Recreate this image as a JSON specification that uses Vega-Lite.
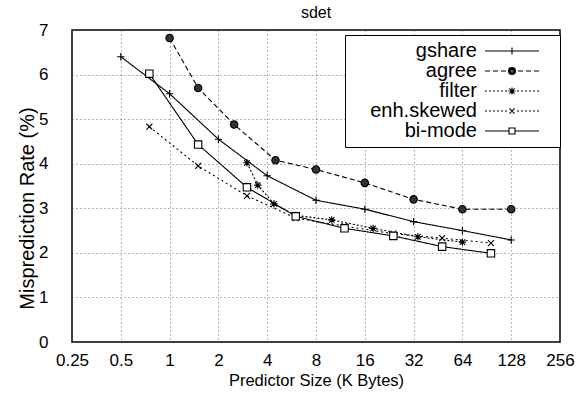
{
  "$schema": "https://vega.github.io/schema/vega-lite/v6.json",
  "width": 488,
  "height": 312,
  "autosize": {"type": "none"},
  "padding": {"left": 72, "top": 30, "right": 19, "bottom": 58},
  "background": "white",
  "title": {"text": "sdet", "fontSize": 16, "font": "Liberation Sans", "fontWeight": "normal", "color": "black", "offset": 0},
  "config": {
    "view": {"stroke": "black", "strokeWidth": 1.5},
    "axis": {
      "labelFont": "Liberation Sans", "labelFontSize": 17, "labelColor": "black",
      "titleFont": "Liberation Sans", "titleFontSize": 17, "titleFontWeight": "normal", "titleColor": "black",
      "domain": false, "ticks": false, "grid": true, "gridColor": "#444", "gridDash": [1, 3], "gridWidth": 0.8
    }
  },
  "data": {"values": [
    {"series": "gshare", "size": 0.5, "rate": 6.4},
    {"series": "gshare", "size": 1, "rate": 5.57},
    {"series": "gshare", "size": 2, "rate": 4.55},
    {"series": "gshare", "size": 4, "rate": 3.73},
    {"series": "gshare", "size": 8, "rate": 3.18},
    {"series": "gshare", "size": 16, "rate": 2.98},
    {"series": "gshare", "size": 32, "rate": 2.70},
    {"series": "gshare", "size": 64, "rate": 2.50},
    {"series": "gshare", "size": 128, "rate": 2.29},
    {"series": "agree", "size": 1, "rate": 6.82},
    {"series": "agree", "size": 1.5, "rate": 5.70},
    {"series": "agree", "size": 2.5, "rate": 4.88},
    {"series": "agree", "size": 4.5, "rate": 4.08},
    {"series": "agree", "size": 8, "rate": 3.87},
    {"series": "agree", "size": 16, "rate": 3.57},
    {"series": "agree", "size": 32, "rate": 3.2},
    {"series": "agree", "size": 64, "rate": 2.98},
    {"series": "agree", "size": 128, "rate": 2.98},
    {"series": "filter", "size": 3, "rate": 4.02},
    {"series": "filter", "size": 3.5, "rate": 3.52},
    {"series": "filter", "size": 4.4, "rate": 3.1},
    {"series": "filter", "size": 6, "rate": 2.84},
    {"series": "filter", "size": 10, "rate": 2.74},
    {"series": "filter", "size": 18, "rate": 2.55},
    {"series": "filter", "size": 34, "rate": 2.36},
    {"series": "filter", "size": 64, "rate": 2.24},
    {"series": "enh.skewed", "size": 0.75, "rate": 4.83},
    {"series": "enh.skewed", "size": 1.5, "rate": 3.95},
    {"series": "enh.skewed", "size": 3, "rate": 3.28},
    {"series": "enh.skewed", "size": 6, "rate": 2.78},
    {"series": "enh.skewed", "size": 12, "rate": 2.6},
    {"series": "enh.skewed", "size": 24, "rate": 2.43},
    {"series": "enh.skewed", "size": 48, "rate": 2.33},
    {"series": "enh.skewed", "size": 96, "rate": 2.22},
    {"series": "bi-mode", "size": 0.75, "rate": 6.02},
    {"series": "bi-mode", "size": 1.5, "rate": 4.43},
    {"series": "bi-mode", "size": 3, "rate": 3.47},
    {"series": "bi-mode", "size": 6, "rate": 2.82},
    {"series": "bi-mode", "size": 12, "rate": 2.55},
    {"series": "bi-mode", "size": 24, "rate": 2.38},
    {"series": "bi-mode", "size": 48, "rate": 2.14},
    {"series": "bi-mode", "size": 96, "rate": 1.99}
  ]},
  "encoding": {
    "x": {"field": "size", "type": "quantitative",
      "scale": {"type": "log", "base": 2, "domain": [0.25, 256], "nice": false},
      "axis": {"values": [0.25, 0.5, 1, 2, 4, 8, 16, 32, 64, 128, 256], "format": "~g", "title": "Predictor Size (K Bytes)", "titleFontSize": 16.5, "labelPadding": 10, "titlePadding": 4, "labelFlush": false}},
    "y": {"field": "rate", "type": "quantitative",
      "scale": {"domain": [0, 7], "nice": false},
      "axis": {"values": [0, 1, 2, 3, 4, 5, 6, 7], "title": "Misprediction Rate (%)", "titleFontSize": 20, "titleY": 178, "labelPadding": 24, "titlePadding": 1}}
  },
  "layer": [
    {
      "mark": {"type": "line", "stroke": "black", "strokeWidth": 1.1},
      "encoding": {
        "strokeDash": {"field": "series", "type": "nominal",
          "scale": {"domain": ["gshare", "agree", "filter", "enh.skewed", "bi-mode"], "range": [[1, 0], [5, 3], [2, 2], [2, 3], [1, 0]]},
          "legend": null}
      }
    },
    {
      "mark": {"type": "point", "filled": true, "stroke": "black", "strokeWidth": 1.1, "opacity": 1, "size": 55},
      "encoding": {
        "shape": {"field": "series", "type": "nominal",
          "scale": {"domain": ["gshare", "agree", "filter", "enh.skewed", "bi-mode"],
            "range": ["M-1,0L1,0M0,-1L0,1", "circle", "M-1,0L1,0M0,-1L0,1M-0.75,-0.75L0.75,0.75M-0.75,0.75L0.75,-0.75", "M-0.8,-0.8L0.8,0.8M-0.8,0.8L0.8,-0.8", "square"]},
          "legend": null},
        "fill": {"field": "series", "type": "nominal",
          "scale": {"domain": ["gshare", "agree", "filter", "enh.skewed", "bi-mode"], "range": ["transparent", "#333", "transparent", "transparent", "white"]},
          "legend": null}
      }
    },
    {
      "transform": [{"filter": "false"}],
      "mark": {"type": "point", "filled": false, "color": "black", "strokeWidth": 1.1, "opacity": 1, "size": 16},
      "encoding": {
        "shape": {"field": "series", "type": "nominal",
          "scale": {"domain": ["gshare", "agree", "filter", "enh.skewed", "bi-mode"],
            "range": [
              "M62,0L89,0M75.5,-1.75L75.5,1.75M95,0",
              "M62,0L64.5,0M66,0L68.5,0M70,0L72.5,0M78.5,0L81,0M82.5,0L85,0M86.5,0L89,0M73.75,0A1.75,1.75,0,1,0,77.25,0A1.75,1.75,0,1,0,73.75,0ZM74.3,0A1.2,1.2,0,1,0,76.7,0A1.2,1.2,0,1,0,74.3,0ZM74.9,0A0.6,0.6,0,1,0,76.1,0A0.6,0.6,0,1,0,74.9,0ZM95,0",
              "M62,0L63,0M64,0L65,0M66,0L67,0M68,0L69,0M70,0L71,0M72,0L73,0M78,0L79,0M80,0L81,0M82,0L83,0M84,0L85,0M86,0L87,0M88,0L89,0M73.75,0L77.25,0M75.5,-1.75L75.5,1.75M74.2,-1.3L76.8,1.3M74.2,1.3L76.8,-1.3M95,0",
              "M62,0L63,0M64,0L65,0M66,0L67,0M68,0L69,0M70,0L71,0M72,0L73,0M78,0L79,0M80,0L81,0M82,0L83,0M84,0L85,0M86,0L87,0M88,0L89,0M74.2,-1.3L76.8,1.3M74.2,1.3L76.8,-1.3M95,0",
              "M62,0L74,0M77,0L89,0M74,-1.5L77,-1.5L77,1.5L74,1.5ZM95,0"
            ]},
          "legend": {
            "title": null, "orient": "none", "legendX": 273, "legendY": 5,
            "labelAlign": "right", "labelOffset": 106, "labelFontSize": 20, "labelFont": "Liberation Sans", "labelColor": "black",
            "symbolSize": 16, "symbolStrokeWidth": 1.1, "symbolStrokeColor": "black", "symbolFillColor": "transparent", "rowPadding": 0,
            "strokeColor": "black", "fillColor": "white", "padding": 6
          }}
      }
    }
  ],
  "resolve": {"scale": {"shape": "independent"}, "legend": {"shape": "independent"}}
}
